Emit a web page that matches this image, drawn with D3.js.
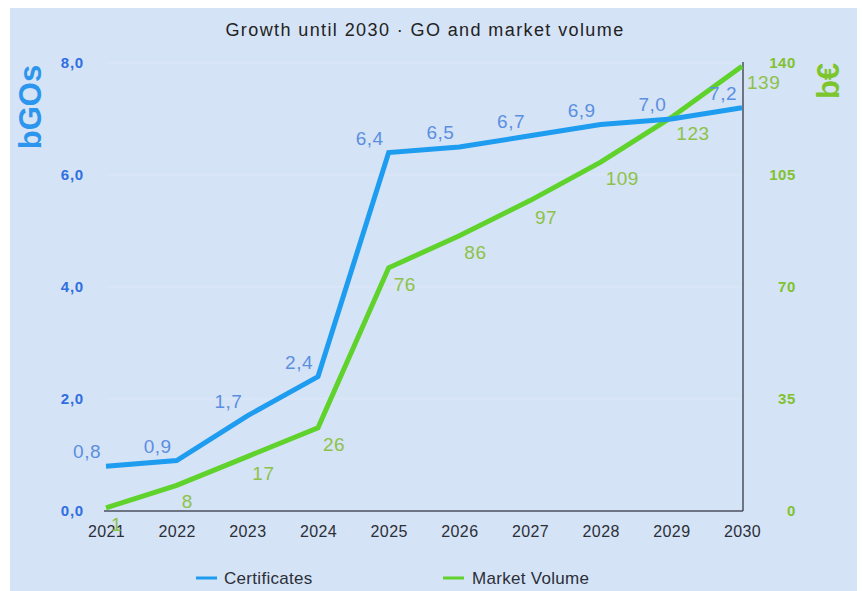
<!DOCTYPE html>
<html>
<head>
<meta charset="utf-8">
<script src="https://cdn.jsdelivr.net/npm/d3@7"></script>
<style>
  body { margin: 0; background: #fff; }
  svg { display: block; font-family: "Liberation Sans", Arial, sans-serif; }
</style>
</head>
<body>
<svg></svg>
<script>
// chart data
const years = [2021, 2022, 2023, 2024, 2025, 2026, 2027, 2028, 2029, 2030];
const certificates = [0.8, 0.9, 1.7, 2.4, 6.4, 6.5, 6.7, 6.9, 7.0, 7.2];
const marketVolume = [1, 8, 17, 26, 76, 86, 97, 109, 123, 139];
const leftTicks = [0, 2, 4, 6, 8];
const rightTicks = [0, 35, 70, 105, 140];

const size = {w: 862, h: 591};
const svg = d3.select('svg')
    .attr('width', size.w)
    .attr('height', size.h);

// background panel
svg.append('rect')
    .attr('x', 10).attr('y', 8)
    .attr('width', 847).attr('height', 583)
    .attr('fill', '#d5e3f6');

const x = d3.scalePoint().domain(years).range([106, 742]);
const yLeft = d3.scaleLinear().domain([0, 8]).range([511, 63]);
const yRight = d3.scaleLinear().domain([0, 140]).range([511, 63]);

// faint gridlines
svg.append('g')
    .selectAll('line')
    .data(leftTicks.slice(1))
    .join('line')
    .attr('x1', 106).attr('x2', 742)
    .attr('y1', d => yLeft(d)).attr('y2', d => yLeft(d))
    .attr('stroke', '#dde8f8')
    .attr('stroke-width', 1);

// title
svg.append('text')
    .attr('x', 425).attr('y', 36)
    .attr('text-anchor', 'middle')
    .attr('font-size', 18)
    .attr('letter-spacing', 1.4)
    .attr('fill', '#222')
    .text('Growth until 2030 · GO and market volume');

// bottom axis
const xAxis = svg.append('g')
    .attr('transform', 'translate(0,511)')
    .call(d3.axisBottom(x).tickSize(0).tickPadding(15));
xAxis.select('.domain').attr('stroke', '#4a4f5c').attr('stroke-width', 1.5)
    .attr('d', 'M104,0H743');
xAxis.selectAll('text').attr('font-size', 16).attr('fill', '#2b2f38')
    .attr('letter-spacing', 0.4)
    .attr('font-family', '"Liberation Sans", Arial, sans-serif');

// left axis (labels only)
const leftAxis = svg.append('g')
    .attr('transform', 'translate(84,0)')
    .call(d3.axisLeft(yLeft).tickValues(leftTicks).tickSize(0).tickPadding(0)
        .tickFormat(d => d3.format('.1f')(d).replace('.', ',')));
leftAxis.select('.domain').remove();
leftAxis.selectAll('text').attr('font-size', 15).attr('font-weight', 'bold')
    .attr('letter-spacing', 0.8)
    .attr('fill', '#2f6fe0').attr('dy', '0.32em')
    .attr('font-family', '"Liberation Sans", Arial, sans-serif');

// right axis
const rightAxis = svg.append('g')
    .attr('transform', 'translate(743,0)')
    .call(d3.axisRight(yRight).tickValues(rightTicks).tickSize(0).tickPadding(0));
rightAxis.select('.domain').attr('stroke', '#4a4f5c').attr('stroke-width', 1.5)
    .attr('d', 'M0,62V511');
rightAxis.selectAll('text').attr('font-size', 15).attr('font-weight', 'bold')
    .attr('letter-spacing', 0.6)
    .attr('fill', '#80c22e').attr('text-anchor', 'end').attr('x', 53)
    .attr('font-family', '"Liberation Sans", Arial, sans-serif');

// axis titles
svg.append('text')
    .attr('transform', 'translate(41,107) rotate(-90)')
    .attr('text-anchor', 'middle')
    .attr('font-size', 31).attr('font-weight', 'bold')
    .attr('fill', '#2c95ee')
    .text('bGOs');
svg.append('text')
    .attr('transform', 'translate(839,81) rotate(-90)')
    .attr('text-anchor', 'middle')
    .attr('font-size', 31).attr('font-weight', 'bold')
    .attr('fill', '#7cc52c')
    .text('b€');

// lines
const certLine = d3.line().x((d, i) => x(years[i])).y(d => yLeft(d));
const mvLine = d3.line().x((d, i) => x(years[i])).y(d => yRight(d));

svg.append('path')
    .datum(marketVolume)
    .attr('d', mvLine)
    .attr('fill', 'none')
    .attr('stroke', '#5fd22c')
    .attr('stroke-width', 5);

svg.append('path')
    .datum(certificates)
    .attr('d', certLine)
    .attr('fill', 'none')
    .attr('stroke', '#1e9cf0')
    .attr('stroke-width', 5);

// data labels
svg.append('g')
    .selectAll('text')
    .data(certificates)
    .join('text')
    .attr('x', (d, i) => x(years[i]) - 5)
    .attr('y', d => yLeft(d) - 8)
    .attr('text-anchor', 'end')
    .attr('font-size', 19)
    .attr('letter-spacing', 0.5)
    .attr('fill', '#5b8fe0')
    .text(d => d3.format('.1f')(d).replace('.', ','));

svg.append('g')
    .selectAll('text')
    .data(marketVolume)
    .join('text')
    .attr('x', (d, i) => x(years[i]) + 5)
    .attr('y', d => yRight(d) + 23)
    .attr('text-anchor', 'start')
    .attr('font-size', 19)
    .attr('letter-spacing', 0.5)
    .attr('fill', '#8cc247')
    .text(d => d);

// legend
const legend = [
    {name: 'Certificates', color: '#1e9cf0', x: 196},
    {name: 'Market Volume', color: '#5fd22c', x: 443}
];
const lg = svg.append('g').selectAll('g').data(legend).join('g')
    .attr('transform', d => `translate(${d.x},578)`);
lg.append('line')
    .attr('x1', 0).attr('x2', 21)
    .attr('stroke', d => d.color).attr('stroke-width', 3);
lg.append('text')
    .attr('x', d => d.name === 'Certificates' ? 28 : 29)
    .attr('y', 6)
    .attr('font-size', 17)
    .attr('letter-spacing', 0.3)
    .attr('fill', '#2b2f38')
    .text(d => d.name);
</script>
</body>
</html>
